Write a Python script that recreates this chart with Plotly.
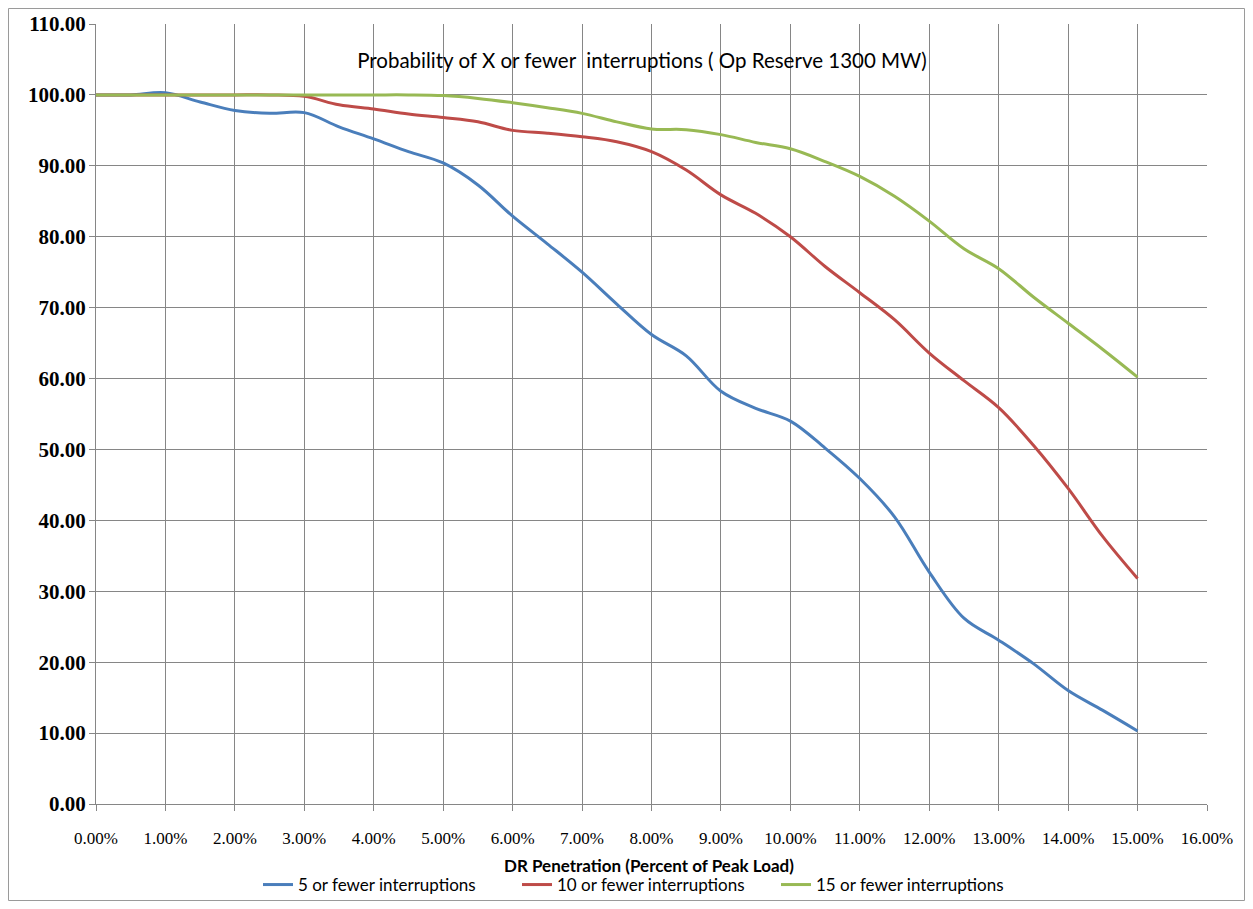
import plotly.graph_objects as go

# DR penetration, fraction of peak load (0% .. 15% in 0.5% steps)
dr_penetration = [0.000, 0.005, 0.010, 0.015, 0.020, 0.025, 0.030, 0.035,
                  0.040, 0.045, 0.050, 0.055, 0.060, 0.065, 0.070, 0.075,
                  0.080, 0.085, 0.090, 0.095, 0.100, 0.105, 0.110, 0.115,
                  0.120, 0.125, 0.130, 0.135, 0.140, 0.145, 0.150]

five_or_fewer = [100.0, 100.0, 100.3, 99.0, 97.8, 97.4, 97.5, 95.5,
                 93.8, 92.0, 90.4, 87.3, 82.9, 79.0, 75.0, 70.5,
                 66.2, 63.2, 58.2, 55.8, 54.0, 50.2, 45.9, 40.5,
                 32.7, 26.2, 23.1, 19.8, 16.0, 13.2, 10.3]

ten_or_fewer = [100.0, 100.0, 100.0, 100.0, 100.0, 100.0, 99.8, 98.6,
                98.0, 97.3, 96.8, 96.2, 95.0, 94.6, 94.1, 93.4,
                92.0, 89.4, 85.9, 83.3, 80.0, 75.8, 72.1, 68.3,
                63.6, 59.7, 55.9, 50.6, 44.5, 37.7, 31.8]

fifteen_or_fewer = [100.0, 100.0, 100.0, 100.0, 100.0, 100.0, 100.0, 100.0,
                    100.0, 100.0, 99.9, 99.5, 98.9, 98.2, 97.4, 96.2,
                    95.2, 95.1, 94.4, 93.3, 92.4, 90.6, 88.5, 85.7,
                    82.2, 78.3, 75.5, 71.5, 67.8, 64.1, 60.2]

series = [
    ("5 or fewer interruptions", five_or_fewer, "#4A7EBB"),
    ("10 or fewer interruptions", ten_or_fewer, "#BE4B48"),
    ("15 or fewer interruptions", fifteen_or_fewer, "#98B954"),
]

# the page body has an 8px margin, so the figure is a bit smaller than the window
W, H = 1237, 893
L, R, T, B = 88, 38, 16, 97
pw, ph = W - L - R, H - T - B

fig = go.Figure()
for name, values, color in series:
    fig.add_trace(go.Scatter(
        x=dr_penetration, y=values, name=name, mode="lines",
        line=dict(color=color, width=3, shape="spline", smoothing=1.0),
    ))

grid = "#868686"
fig.update_layout(
    template="none",
    width=W, height=H,
    margin=dict(l=L, r=R, t=T, b=B, autoexpand=False),
    paper_bgcolor="white", plot_bgcolor="white",
    title=dict(
        text="Probability of X or fewer\u00a0 interruptions ( Op Reserve 1300 MW)",
        font=dict(family="Lato", size=20.5, color="#000000"),
        xref="container", x=634 / W, xanchor="center",
        yref="container", y=1 - 53 / H, yanchor="middle",
    ),
    legend=dict(
        orientation="h",
        xref="container", x=250 / W, xanchor="left",
        yref="container", y=1 - 877 / H, yanchor="middle",
        entrywidth=214, entrywidthmode="pixels",
        font=dict(family="Lato", size=17, color="#000000"),
        bgcolor="rgba(0,0,0,0)",
    ),
    xaxis=dict(
        range=[0, 0.16], dtick=0.01, tick0=0, tickformat=".2%",
        showgrid=True, gridcolor=grid, gridwidth=1,
        showline=True, linecolor=grid, linewidth=1, mirror=False,
        ticks="outside", ticklen=6, tickcolor=grid, tickwidth=1,
        ticklabelstandoff=13, automargin=False,
        tickfont=dict(family="Liberation Serif", size=17, color="#000000"),
        zeroline=False,
    ),
    yaxis=dict(
        range=[0, 110], dtick=10, tick0=0, tickformat=".2f",
        showgrid=True, gridcolor=grid, gridwidth=1,
        showline=True, linecolor=grid, linewidth=1, mirror=False,
        ticks="outside", ticklen=6, tickcolor=grid, tickwidth=1,
        ticklabelstandoff=-1, automargin=False,
        tickfont=dict(family="Liberation Serif", size=21, color="#000000",
                      weight="bold"),
        zeroline=False,
    ),
    annotations=[dict(
        text="<b>DR Penetration (Percent of Peak Load)</b>",
        xref="paper", yref="paper",
        x=(641 - L) / pw, xanchor="center",
        y=(H - B - 857) / ph, yanchor="middle",
        showarrow=False,
        font=dict(family="Lato", size=17, color="#000000"),
    )],
    shapes=[dict(
        type="rect", xref="paper", yref="paper",
        x0=(0.5 - L) / pw, x1=(W - 0.5 - L) / pw,
        y0=(H - B - H + 0.5) / ph, y1=(H - B - 0.5) / ph,
        line=dict(color="#9a9a9a", width=1), fillcolor="rgba(0,0,0,0)",
        layer="below",
    )],
)

fig.write_html("out.html")
